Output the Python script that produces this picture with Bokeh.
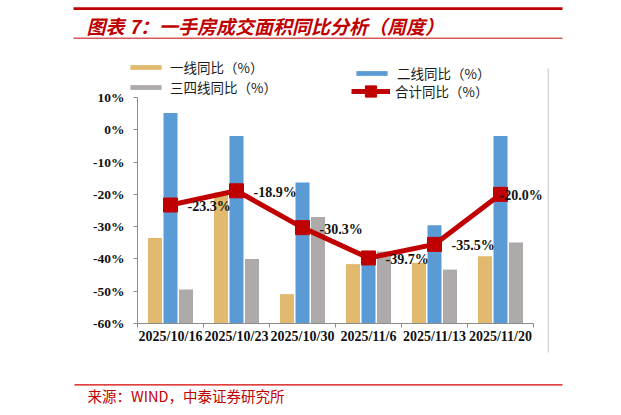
import numpy as np
from bokeh.plotting import figure
from bokeh.models import (ColumnDataSource, LabelSet, Legend, LegendItem, FixedTicker,
                          PrintfTickFormatter, Label, BoxAnnotation, Range1d)
from bokeh.embed import file_html
from bokeh.resources import INLINE

# ---------------- data ----------------
weeks = ["2025/10/16", "2025/10/23", "2025/10/30", "2025/11/6", "2025/11/13", "2025/11/20"]
tier1 = [-33.5, -19.4, -50.9, -41.6, -41.2, -39.2]      # 一线同比（%）
tier2 = [5.2, -1.9, -16.3, -38.5, -29.6, -1.9]          # 二线同比（%）
tier34 = [-49.5, -40.0, -27.0, -37.7, -43.3, -34.9]     # 三四线同比（%）
total = [-23.3, -18.9, -30.3, -39.7, -35.5, -20.0]      # 合计同比（%）
y_ticks = [-60, -50, -40, -30, -20, -10, 0, 10]

title_text = "图表 7：一手房成交面积同比分析（周度）"
source_text = "来源：WIND，中泰证券研究所"
names = ["一线同比（%）", "二线同比（%）", "三四线同比（%）", "合计同比（%）"]

# ---------------- styles / layout ----------------
C_Y = "#E1B96F"
C_B = "#5B9BD5"
C_G = "#AEAAAA"
C_R = "#C00000"
SERIF = "Liberation Serif"
CJK = "Noto Sans CJK SC"

W, H = 605, 407
n = len(weeks)
# plotting area in canvas pixels (axis origin and extents)
AX_L, AX_R, AX_T, AX_B = 137, 533, 97, 323
ymin, ymax = y_ticks[0], y_ticks[-1]
ppx = (AX_R - AX_L) / n                     # pixels per category
ppy = (AX_B - AX_T) / (ymax - ymin)         # pixels per percent
x_range = Range1d(-AX_L / ppx, n + (W - AX_R) / ppx)
y_range = Range1d(ymin - (H - AX_B) / ppy, ymax + AX_T / ppy)

xc = np.arange(n) + 0.5
bw = 0.212
dx = 0.235

p = figure(width=W, height=H, output_backend="svg", toolbar_location=None,
           x_range=x_range, y_range=y_range, min_border=0)
p.outline_line_color = None
p.grid.visible = False
p.background_fill_color = "white"
p.border_fill_color = "white"

src = ColumnDataSource(dict(x=xc, tot=total,
                            lab=[f"{v:.1f}%" for v in total],
                            xo=[17, 17, 17, 17, 17, -1]))

r1 = p.vbar(x=xc - dx, top=tier1, bottom=ymin, width=bw, fill_color=C_Y, line_color=None)
r2 = p.vbar(x=xc, top=tier2, bottom=ymin, width=bw, fill_color=C_B, line_color=None)
r3 = p.vbar(x=xc + dx, top=tier34, bottom=ymin, width=bw, fill_color=C_G, line_color=None)
rl = p.line(x="x", y="tot", source=src, line_color=C_R, line_width=5)
rs = p.scatter(x="x", y="tot", source=src, marker="square", size=14,
               fill_color=C_R, line_color=C_R)

labels = LabelSet(x="x", y="tot", text="lab", source=src, x_offset="xo", y_offset=-1.5,
                  text_font=SERIF, text_font_style="bold", text_font_size="14px",
                  text_color="#111111", text_baseline="middle", text_align="left")
p.add_layout(labels)

# axes (fixed at the data origin of the chart)
xa = p.xaxis[0]
xa.fixed_location = ymin
xa.bounds = (0, n)
xa.ticker = FixedTicker(ticks=list(xc), minor_ticks=list(range(n + 1)))
xa.major_label_overrides = {float(x): w for x, w in zip(xc, weeks)}
xa.major_tick_line_color = None
xa.major_tick_in = 0
xa.major_tick_out = 2
xa.minor_tick_in = 0
xa.minor_tick_out = 4
xa.minor_tick_line_color = "#8C8C8C"
xa.axis_line_color = "#8C8C8C"
xa.major_label_text_font = SERIF
xa.major_label_text_font_style = "bold"
xa.major_label_text_font_size = "14px"
xa.major_label_text_color = "#111111"
xa.major_label_standoff = 1

ya = p.yaxis[0]
ya.fixed_location = 0
ya.bounds = (ymin, ymax)
ya.ticker = FixedTicker(ticks=y_ticks, minor_ticks=[])
ya.formatter = PrintfTickFormatter(format="%d%%")
ya.major_tick_in = 0
ya.major_tick_out = 4
ya.major_tick_line_color = "#8C8C8C"
ya.axis_line_color = "#8C8C8C"
ya.major_label_text_font = SERIF
ya.major_label_text_font_style = "bold"
ya.major_label_text_font_size = "13.5px"
ya.major_label_text_color = "#111111"
ya.major_label_standoff = 9

# legends (screen units: origin at canvas bottom-left)
def mk_legend(items, x, y_bottom_px, gh, lh, standoff):
    lg = Legend(items=items, location=(x, H - y_bottom_px), orientation="vertical",
                glyph_width=39, glyph_height=gh, label_height=lh, label_standoff=standoff,
                spacing=0, padding=0, margin=0, border_line_color=None,
                background_fill_alpha=0, label_text_font=CJK, label_text_font_size="13.5px",
                label_text_color="#1A1A1A")
    p.add_layout(lg)
    return lg

mk_legend([LegendItem(label=names[0], renderers=[r1]),
           LegendItem(label=names[2], renderers=[r3])], 126, 97, 6, 14, 5)
mk_legend([LegendItem(label=names[1], renderers=[r2])], 352, 83, 6, 14, 6)
mk_legend([LegendItem(label=names[3], renderers=[rl, rs])], 351, 105, 28, 28, 5)

def box(l, r, t, b, color):
    p.add_layout(BoxAnnotation(left=l, right=r, top=H - t, bottom=H - b,
                               left_units="screen", right_units="screen",
                               top_units="screen", bottom_units="screen",
                               fill_color=color, fill_alpha=1, line_color=None))

box(73, 562, 6.7, 9.5, C_R)
box(607, 630, 6.7, 9.5, C_R)
box(73, 562, 37, 38.6, "#D65A5A")
box(607, 630, 37, 38.6, "#D65A5A")
box(74, 562, 383.7, 385, "#D40000")
box(607, 630, 383.7, 385, "#D40000")
box(547.2, 548.2, 68, 352, "#C4C4C4")

p.add_layout(Label(x=86, y=H - 25, x_units="screen", y_units="screen",
                   text=title_text, text_font=CJK, text_font_style="bold italic",
                   text_font_size="19px", text_color=C_R, text_baseline="middle"))
p.add_layout(Label(x=87, y=H - 395, x_units="screen", y_units="screen",
                   text=source_text, text_font=CJK, text_font_size="14.5px",
                   text_color=C_R, text_baseline="middle"))

open("out.html", "w").write(file_html(p, INLINE))
